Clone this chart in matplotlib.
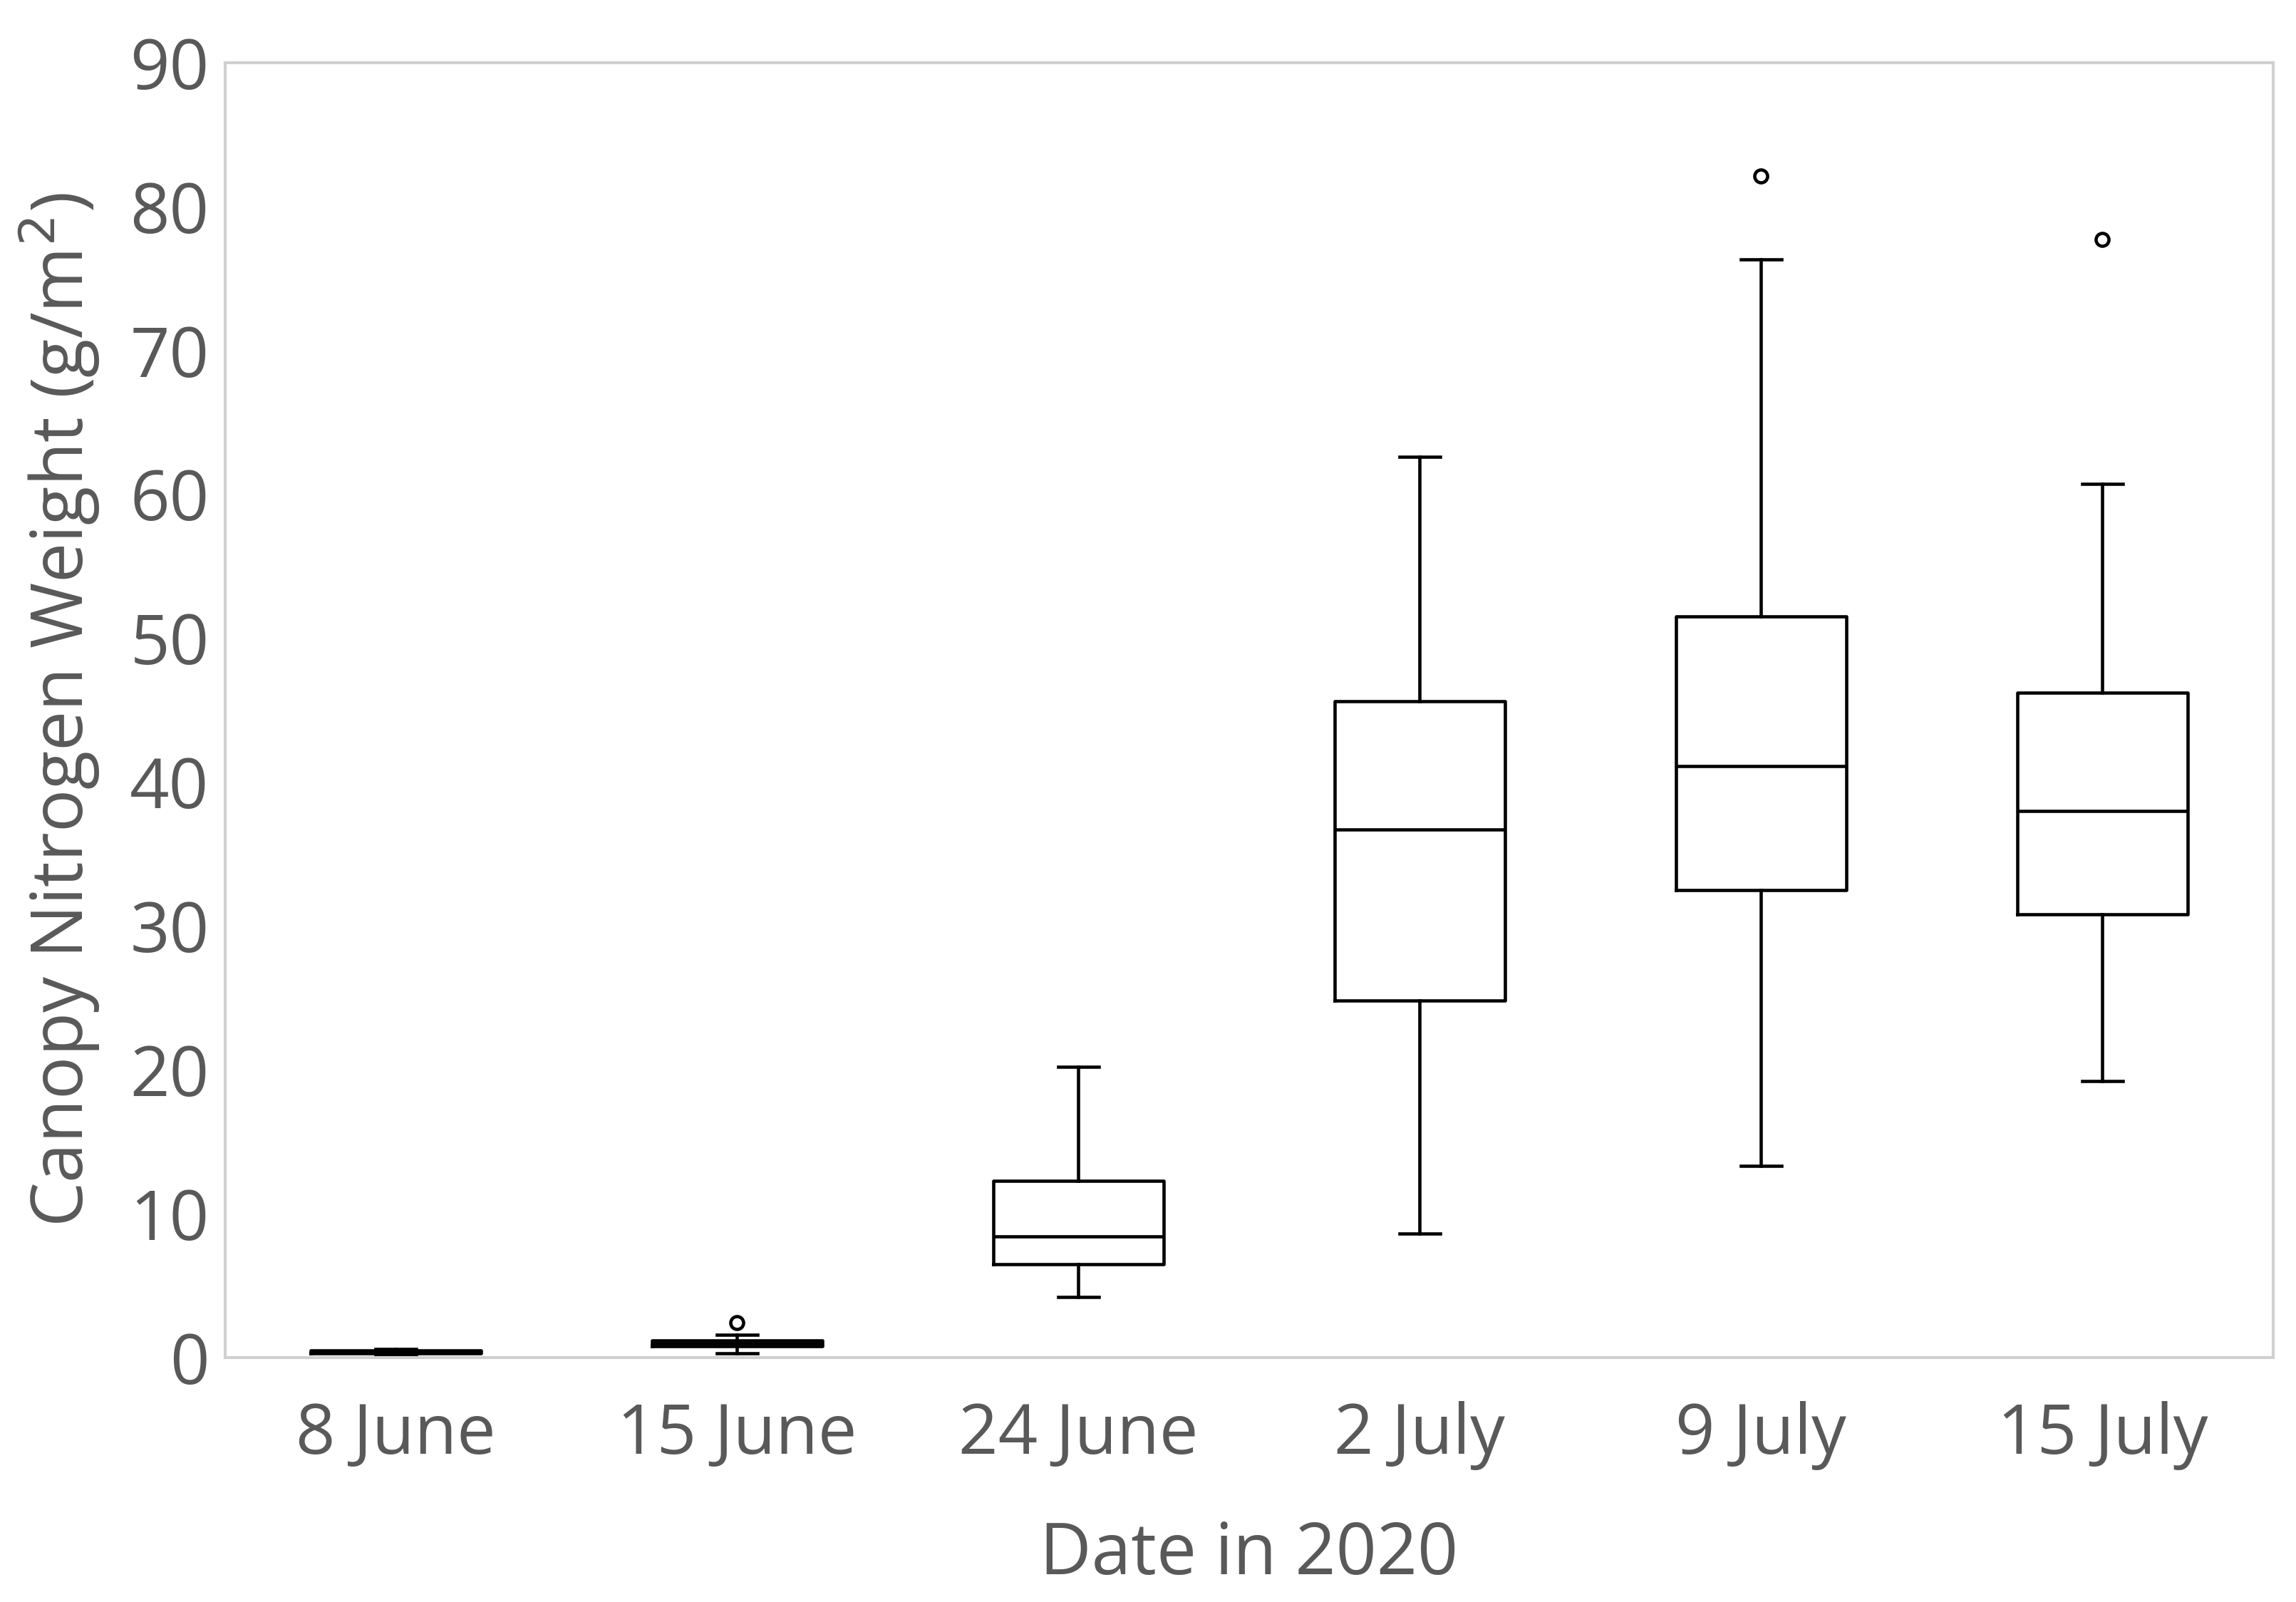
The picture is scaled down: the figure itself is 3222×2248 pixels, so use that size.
import matplotlib
matplotlib.use("Agg")
import matplotlib.pyplot as plt

# values
dates = ["8 June", "15 June", "24 June", "2 July", "9 July", "15 July"]
whislo = [0.2, 0.3, 4.2, 8.6, 13.3, 19.2]
q1 = [0.3, 0.8, 6.5, 24.8, 32.5, 30.8]
med = [0.4, 1.0, 8.4, 36.7, 41.1, 38.0]
q3 = [0.5, 1.2, 12.3, 45.6, 51.5, 46.2]
whishi = [0.6, 1.6, 20.2, 62.6, 76.3, 60.7]
fliers = [[], [2.4], [], [], [82.1], [77.7]]

plt.rcParams['font.family'] = ['Open Sans', 'DejaVu Sans']
grey = '#595959'

stats = []
for i in range(len(dates)):
    stats.append({'whislo': whislo[i], 'q1': q1[i], 'med': med[i], 'q3': q3[i],
                  'whishi': whishi[i], 'fliers': fliers[i], 'label': dates[i]})

fig = plt.figure(figsize=(32.22, 22.48), dpi=100)
ax = fig.add_axes([0.098, 0.1526, 0.892, 0.8084])

lw = 3.3
ax.bxp(stats, positions=range(1, len(dates) + 1), widths=0.5, capwidths=0.12,
       boxprops=dict(color='black', linewidth=lw),
       medianprops=dict(color='black', linewidth=lw),
       whiskerprops=dict(color='black', linewidth=lw),
       capprops=dict(color='black', linewidth=lw),
       flierprops=dict(marker='o', markerfacecolor='white', markeredgecolor='black',
                       markersize=13, markeredgewidth=3.3))

ax.set_xlim(0.5, len(dates) + 0.5)
ax.set_ylim(0, 90)
ax.set_yticks(range(0, 91, 10))
ax.tick_params(length=0, labelsize=70, colors=grey, pad=16)
ax.tick_params(axis='x', pad=44)

for s in ax.spines.values():
    s.set_color('#d0d0d0')
    s.set_linewidth(3)

ax.set_xlabel('Date in 2020', fontsize=72, color=grey, labelpad=50)
ax.set_ylabel('Canopy Nitrogen Weight (g/m$^2$)', fontsize=72, color=grey, labelpad=28)

fig.savefig('out.png', dpi=100)
